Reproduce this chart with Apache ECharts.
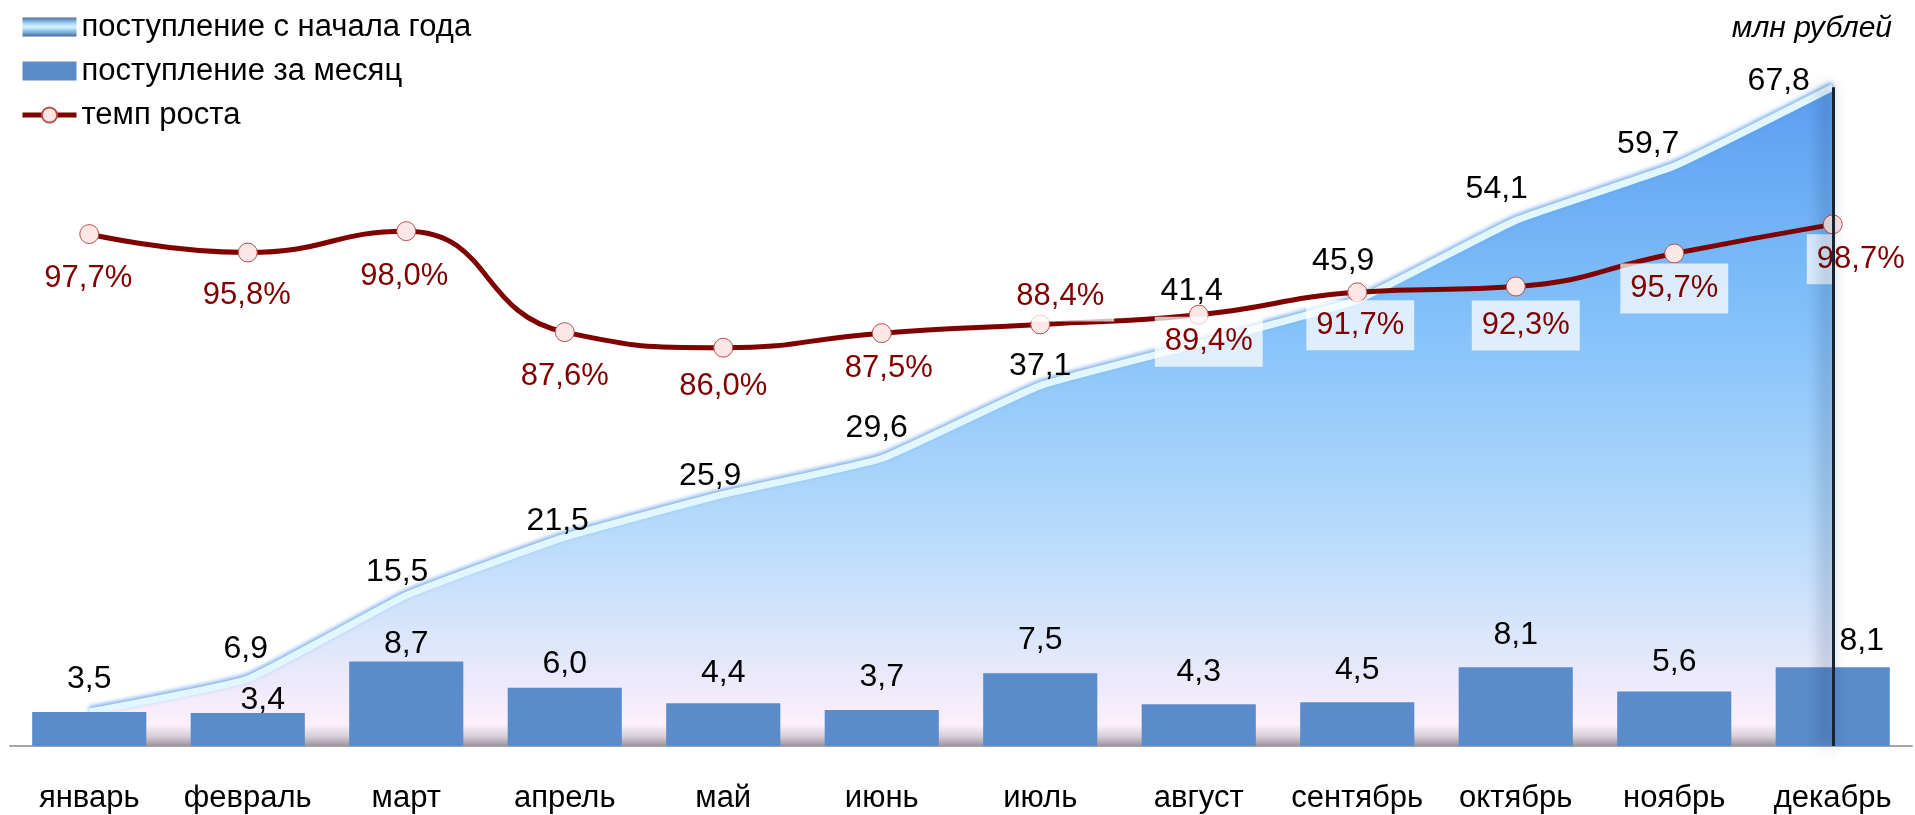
<!DOCTYPE html>
<html>
<head>
<meta charset="utf-8">
<script src="https://cdn.jsdelivr.net/npm/echarts@6/dist/echarts.min.js"></script>
<style>
html, body { margin: 0; padding: 0; background: #ffffff; }
#main { width: 1915px; height: 815px; }
</style>
</head>
<body>
<div id="main"></div>
<script>
// данные
var months = ['январь', 'февраль', 'март', 'апрель', 'май', 'июнь', 'июль', 'август', 'сентябрь', 'октябрь', 'ноябрь', 'декабрь'];
var monthly = [3.5, 3.4, 8.7, 6.0, 4.4, 3.7, 7.5, 4.3, 4.5, 8.1, 5.6, 8.1];
var cumulative = [3.5, 6.9, 15.5, 21.5, 25.9, 29.6, 37.1, 41.4, 45.9, 54.1, 59.7, 67.8];
var growth = [97.7, 95.8, 98.0, 87.6, 86.0, 87.5, 88.4, 89.4, 91.7, 92.3, 95.7, 98.7];

// смещения подписей (как их расставили руками в Excel)
var cumLabelOffset = [[0, -33], [-2, -30], [-9, -23], [-7, -16], [-13, -18], [-5, -30], [0, -19], [-7, -53], [-14, -39], [-19, -31], [-26, -22], [-54, -6]];
var barLabelOffset = [[0, -33], [15, -13], [0, -17], [0, -24], [0, -30], [0, -33], [0, -33], [0, -32], [0, -32], [0, -32], [0, -29], [29, -26]];
var rateLabelOffset = [[-1, 44], [-1, 43], [-2, 45], [0, 44], [0, 39], [7, 35], [20, -28], [10, 27], [3, 33], [10, 39], [0, 35], [28, 35]];

var FONT = "'Liberation Sans', Arial, sans-serif";

function fmt(v) {
	return v.toFixed(1).replace('.', ',');
}

var areaColor = new echarts.graphic.LinearGradient(0, 0, 0, 1, [
	{offset: 0, color: '#5a9ef0'},
	{offset: 0.3, color: '#7cbcf9'},
	{offset: 0.6, color: '#a9d5fb'},
	{offset: 0.8, color: '#d2e4fb'},
	{offset: 0.91, color: '#efeafb'},
	{offset: 0.968, color: '#fcf0fa'},
	{offset: 0.985, color: '#d8cfd8'},
	{offset: 1, color: '#9c949c'}
]);

var legendAreaIcon = new echarts.graphic.LinearGradient(0, 0, 0, 1, [
	{offset: 0, color: '#4d6f9c'},
	{offset: 0.3, color: '#9cd4fa'},
	{offset: 0.5, color: '#d9f5ff'},
	{offset: 0.7, color: '#8ec6ee'},
	{offset: 1, color: '#4a6a98'}
]);

var chart = echarts.init(document.getElementById('main'));

var option = {
	animation: false,
	backgroundColor: '#ffffff',
	title: {
		text: 'млн рублей',
		right: 18,
		top: 9,
		textStyle: {
			fontFamily: FONT,
			fontSize: 30,
			fontStyle: 'italic',
			fontWeight: 'normal',
			color: '#000'
		}
	},
	legend: {
		orient: 'vertical',
		left: 15,
		top: 2,
		itemWidth: 54,
		itemHeight: 19,
		itemGap: 4,
		selectedMode: false,
		textStyle: {fontFamily: FONT, fontSize: 31, lineHeight: 40, color: '#000'},
		data: [
			{name: 'поступление с начала года', icon: 'rect', itemStyle: {color: legendAreaIcon}},
			{name: 'поступление за месяц', icon: 'rect'},
			{name: 'темп роста', lineStyle: {width: 5}}
		]
	},
	grid: {
		left: 10,
		right: 3,
		top: 66,
		bottom: 66
	},
	xAxis: {
		type: 'category',
		data: months,
		axisLine: {lineStyle: {color: '#a6a6a6', width: 2}},
		axisTick: {length: 18, lineStyle: {color: '#a6a6a6', width: 2}},
		axisLabel: {
			interval: 0,
			margin: 35,
			fontFamily: FONT,
			fontSize: 31,
			lineHeight: 34,
			color: '#000'
		}
	},
	yAxis: [
		{type: 'value', min: 0, max: 70, show: false, splitLine: {show: false}},
		{type: 'value', min: 45, max: 115, show: false, splitLine: {show: false}}
	],
	series: [
		{
			name: 'поступление с начала года',
			type: 'line',
			z: 1,
			smooth: 0.12,
			symbol: 'circle',
			symbolSize: 1,
			itemStyle: {color: 'rgba(0,0,0,0)'},
			lineStyle: {
				color: '#e0f7ff',
				width: 7,
				shadowColor: 'rgba(60,130,220,0.7)',
				shadowBlur: 4,
				shadowOffsetY: -2
			},
			areaStyle: {color: areaColor, opacity: 1},
			label: {
				show: true,
				position: 'inside',
				color: '#000',
				fontFamily: FONT,
				fontSize: 32,
				formatter: function (p) { return fmt(p.value); }
			},
			data: cumulative.map(function (v, i) {
				return {value: v, label: {offset: cumLabelOffset[i]}};
			}),
			markLine: {
				silent: true,
				symbol: ['none', 'none'],
				label: {show: false},
				lineStyle: {
					color: '#1a2430',
					width: 3,
					type: 'solid',
					shadowColor: 'rgba(15,35,70,0.85)',
					shadowBlur: 16,
					shadowOffsetX: -7
				},
				data: [[
					{coord: [months[11], cumulative[11]]},
					{coord: [months[11], 0]}
				]]
			}
		},
		{
			name: 'поступление за месяц',
			type: 'bar',
			z: 3,
			barWidth: '72%',
			itemStyle: {color: '#5a8bcb'},
			label: {
				show: true,
				position: ['50%', 0],
				align: 'center',
				verticalAlign: 'middle',
				color: '#000',
				fontFamily: FONT,
				fontSize: 32,
				formatter: function (p) { return fmt(p.value); }
			},
			data: monthly.map(function (v, i) {
				// в январе сумма за месяц = сумме с начала года, подпись одна
				return {value: v, label: {show: v !== cumulative[i], offset: barLabelOffset[i]}};
			})
		},
		{
			name: 'темп роста',
			type: 'line',
			yAxisIndex: 1,
			z: 4,
			smooth: 0.5,
			symbol: 'circle',
			symbolSize: 19,
			itemStyle: {color: '#fde6e6', borderColor: '#b9504c', borderWidth: 1},
			lineStyle: {color: '#800000', width: 5},
			label: {
				show: true,
				position: 'inside',
				color: '#800000',
				fontFamily: FONT,
				fontSize: 31,
				lineHeight: 38,
				backgroundColor: 'rgba(255,255,255,0.72)',
				padding: [6, 10],
				formatter: function (p) { return fmt(p.value) + '%'; }
			},
			data: growth.map(function (v, i) {
				return {value: v, label: {offset: rateLabelOffset[i]}};
			})
		}
	]
};

chart.setOption(option);
</script>
</body>
</html>
